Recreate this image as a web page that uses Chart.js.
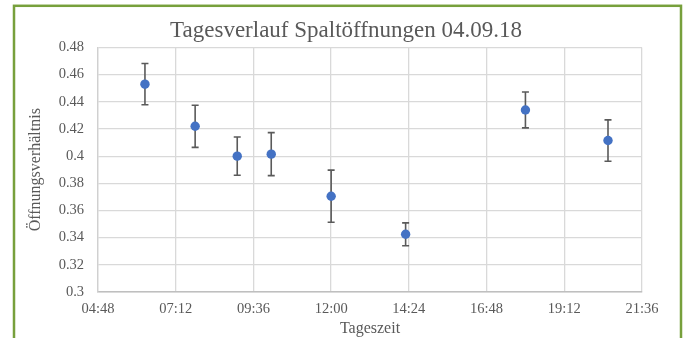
<!DOCTYPE html>
<html>
<head>
<meta charset="utf-8">
<script src="https://cdn.jsdelivr.net/npm/chart.js@4/dist/chart.umd.min.js"></script>
<style>
  html, body { margin: 0; padding: 0; background: #ffffff; }
  canvas { display: block; }
</style>
</head>
<body>
<canvas id="graphic" width="686" height="338"></canvas>
<script>
// Messzeitpunkte und Mittelwerte mit Fehler
const zeiten = ['06:15', '07:48', '09:06', '10:09', '12:00', '14:18', '18:00', '20:33'];
const werte = [0.453, 0.422, 0.400, 0.4015, 0.3705, 0.3425, 0.434, 0.4115];
const fehler = [0.0152, 0.0155, 0.0141, 0.0158, 0.0192, 0.0084, 0.0132, 0.0152];

const xMin = 4.8, xMax = 21.6, xStep = 2.4;
const yMin = 0.3, yMax = 0.48, yStep = 0.02;

const toHours = (t) => {
    let [h, m] = t.split(':').map(Number);
    return h + m / 60;
};

const fmtTime = (v) => {
    let min = Math.round(v * 60);
    let h = String(Math.floor(min / 60)).padStart(2, '0');
    let m = String(min % 60).padStart(2, '0');
    return `${h}:${m}`;
};

const punkte = zeiten.map((t, i) => ({ x: toHours(t), y: werte[i] }));

const textColor = '#595959';
const serif = '"Liberation Serif", "Times New Roman", serif';

// Fehlerbalken ueber die Skalen zeichnen
const errorBars = {
    id: 'errorBars',
    beforeDatasetsDraw(chart) {
        const ctx = chart.ctx;
        const xs = chart.scales.x;
        const ys = chart.scales.y;
        ctx.save();
        ctx.strokeStyle = '#5a5a5a';
        ctx.lineWidth = 1.6;
        punkte.forEach((p, i) => {
            let px = xs.getPixelForValue(p.x);
            let top = ys.getPixelForValue(p.y + fehler[i]);
            let bot = ys.getPixelForValue(p.y - fehler[i]);
            ctx.beginPath();
            ctx.moveTo(px, top);
            ctx.lineTo(px, bot);
            ctx.moveTo(px - 3.5, top);
            ctx.lineTo(px + 3.5, top);
            ctx.moveTo(px - 3.5, bot);
            ctx.lineTo(px + 3.5, bot);
            ctx.stroke();
        });
        ctx.restore();
    }
};

// gruener Rahmen um das Diagramm
const frame = {
    id: 'frame',
    afterDraw(chart) {
        const ctx = chart.ctx;
        ctx.save();
        ctx.strokeStyle = '#77a03c';
        ctx.lineWidth = 2.5;
        ctx.strokeRect(14, 5.8, 667, 400);
        ctx.restore();
    }
};

const ctx = document.getElementById('graphic');

new Chart(ctx, {
    type: 'scatter',
    data: {
        datasets: [{
            label: 'Öffnungsverhältnis',
            data: punkte,
            backgroundColor: '#4472c4',
            borderColor: '#4472c4',
            pointRadius: 4.7,
            pointHoverRadius: 4.7,
            borderWidth: 0
        }]
    },
    options: {
        responsive: false,
        animation: false,
        layout: { padding: { left: 6, right: 0, top: 0, bottom: 0 } },
        plugins: {
            legend: { display: false },
            tooltip: { enabled: false },
            title: {
                display: true,
                text: 'Tagesverlauf Spaltöffnungen 04.09.18',
                color: textColor,
                font: { family: serif, size: 23, weight: 'normal' },
                padding: { top: 16.7, bottom: 3.2 }
            }
        },
        scales: {
            x: {
                type: 'linear',
                min: xMin,
                max: xMax,
                ticks: {
                    stepSize: xStep,
                    color: textColor,
                    padding: 8,
                    font: { family: serif, size: 14.5 },
                    callback: (v) => fmtTime(v)
                },
                grid: { color: '#d9d9d9', lineWidth: 1.3, drawTicks: false },
                border: { color: '#bfbfbf', width: 1.5 },
                title: {
                    display: true,
                    text: 'Tageszeit',
                    color: textColor,
                    font: { family: serif, size: 16 },
                    padding: { top: 0, bottom: 0 }
                },
                afterFit: (s) => { s.height = 46; }
            },
            y: {
                min: yMin,
                max: yMax,
                ticks: {
                    stepSize: yStep,
                    color: textColor,
                    padding: 14,
                    font: { family: serif, size: 14.5 },
                    callback: (v) => String(Math.round(v * 100) / 100)
                },
                grid: { color: '#d9d9d9', lineWidth: 1.3, drawTicks: false },
                border: { color: '#d0d0d0', width: 1.3 },
                title: {
                    display: true,
                    text: 'Öffnungsverhältnis',
                    color: textColor,
                    font: { family: serif, size: 16 },
                    padding: { top: 20.4, bottom: 0 }
                },
                afterFit: (s) => { s.width = 92; }
            },
            rechts: {
                position: 'right',
                display: true,
                ticks: { display: false },
                grid: { display: false },
                border: { display: false },
                afterFit: (s) => { s.width = 44; }
            }
        }
    },
    plugins: [errorBars, frame]
});
</script>
</body>
</html>
